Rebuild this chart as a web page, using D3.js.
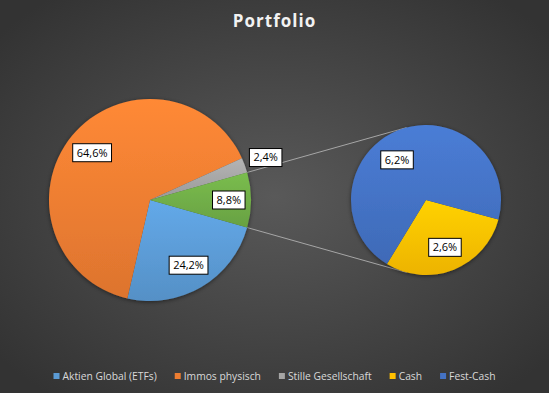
<!DOCTYPE html>
<html>
<head>
<meta charset="utf-8">
<script src="https://cdn.jsdelivr.net/npm/d3@7"></script>
<style>
  body { margin: 0; background: #333; }
  svg { display: block; }
</style>
</head>
<body>
<script>
var width = 549, height = 393;

// data
var mainNames = ["Aktien Global (ETFs)", "Immos physisch", "Stille Gesellschaft", "Other"];
var mainValues = [24.2, 64.6, 2.4, 8.8];
var mainColors = ["#5B9BD5", "#ED7D31", "#A5A5A5", "#70AD47"];
var subNames = ["Cash", "Fest-Cash"];
var subValues = [2.6, 6.2];
var subColors = ["#FFC000", "#4472C4"];
var legendNames = ["Aktien Global (ETFs)", "Immos physisch", "Stille Gesellschaft", "Cash", "Fest-Cash"];
var legendColors = ["#5B9BD5", "#ED7D31", "#A5A5A5", "#FFC000", "#4472C4"];

var svg = d3.select("body").append("svg")
    .attr("width", width)
    .attr("height", height);

var defs = svg.append("defs");

var bg = defs.append("radialGradient").attr("id", "bg")
    .attr("cx", "50%").attr("cy", "50%").attr("r", "65%");
bg.append("stop").attr("offset", "0%").attr("stop-color", "#595959");
bg.append("stop").attr("offset", "100%").attr("stop-color", "#333333");

svg.append("rect").attr("width", width).attr("height", height).attr("fill", "url(#bg)");

// vertical shading like excel
function makeGrad(id, col) {
    var g = defs.append("linearGradient").attr("id", id)
        .attr("x1", 0).attr("y1", 0).attr("x2", 0).attr("y2", 1);
    g.append("stop").attr("offset", "0%").attr("stop-color", d3.color(col).brighter(0.25));
    g.append("stop").attr("offset", "100%").attr("stop-color", d3.color(col).darker(0.2));
}
mainColors.forEach(function(c, i){ makeGrad("m" + i, c); });
subColors.forEach(function(c, i){ makeGrad("s" + i, c); });

var shadow = defs.append("filter").attr("id", "shadow")
    .attr("x", "-20%").attr("y", "-20%").attr("width", "140%").attr("height", "140%");
shadow.append("feDropShadow").attr("dx", 0).attr("dy", 1).attr("stdDeviation", 2)
    .attr("flood-color", "#000").attr("flood-opacity", 0.5);

// title
svg.append("text")
    .attr("x", width / 2)
    .attr("y", 27)
    .attr("text-anchor", "middle")
    .attr("font-family", "Open Sans")
    .attr("font-weight", "bold")
    .attr("font-size", 17)
    .attr("letter-spacing", 1)
    .attr("fill", "#F2F2F2")
    .text("Portfolio");

var fmt = function(v){ return v.toFixed(1).replace(".", ",") + "%"; };
var deg = Math.PI / 180;

// main pie: "Other" slice centred at 3 o'clock
var mainTotal = d3.sum(mainValues);
var otherAngle = mainValues[3] / mainTotal * 360;
var mainStart = (90 + otherAngle / 2) * deg;
var mainPie = d3.pie().sort(null).startAngle(mainStart).endAngle(mainStart + 2 * Math.PI);
var mainR = 101;
var mainCx = 150, mainCy = 200;
var mainArcs = mainPie(mainValues);

var subTotal = d3.sum(subValues);
var subStart = 105 * deg;
var subPie = d3.pie().sort(null).startAngle(subStart).endAngle(subStart + 2 * Math.PI);
var subR = 75;
var subCx = 426, subCy = 200;
var subArcs = subPie(subValues);

// connector lines
var otherArc = mainArcs[3];
function pt(cx, cy, r, a){ return [cx + r * Math.sin(a), cy - r * Math.cos(a)]; }
var lines = [
    [pt(mainCx, mainCy, mainR, otherArc.startAngle), pt(subCx, subCy, subR, -15 * deg)],
    [pt(mainCx, mainCy, mainR, otherArc.endAngle), pt(subCx, subCy, subR, 195 * deg)]
];
svg.selectAll("line.conn").data(lines).enter().append("line")
    .attr("class", "conn")
    .attr("x1", function(d){ return d[0][0]; })
    .attr("y1", function(d){ return d[0][1]; })
    .attr("x2", function(d){ return d[1][0]; })
    .attr("y2", function(d){ return d[1][1]; })
    .attr("stroke", "#A6A6A6")
    .attr("stroke-width", 1);

var arcMain = d3.arc().innerRadius(0).outerRadius(mainR);
var gMain = svg.append("g").attr("transform", "translate(" + mainCx + "," + mainCy + ")")
    .attr("filter", "url(#shadow)");
gMain.selectAll("path").data(mainArcs).enter().append("path")
    .attr("d", arcMain)
    .attr("fill", function(d, i){ return "url(#m" + i + ")"; });

var arcSub = d3.arc().innerRadius(0).outerRadius(subR);
var gSub = svg.append("g").attr("transform", "translate(" + subCx + "," + subCy + ")")
    .attr("filter", "url(#shadow)");
gSub.selectAll("path").data(subArcs).enter().append("path")
    .attr("d", arcSub)
    .attr("fill", function(d, i){ return "url(#s" + i + ")"; });

// labels
function addLabel(x, y, txt) {
    var g = svg.append("g").attr("transform", "translate(" + x + "," + y + ")");
    var t = g.append("text")
        .attr("text-anchor", "middle")
        .attr("dy", "0.35em")
        .attr("font-family", "Open Sans")
        .attr("font-size", 11)
        .attr("fill", "#000")
        .text(txt);
    var w = t.node().getComputedTextLength();
    g.insert("rect", "text")
        .attr("x", -w / 2 - 4).attr("y", -9)
        .attr("width", w + 8).attr("height", 18)
        .attr("fill", "#fff").attr("stroke", "#000").attr("stroke-width", 1);
}
var mainLabelR = [0.75, 0.74, 1.22, 0.78];
mainArcs.forEach(function(a, i){
    var mid = (a.startAngle + a.endAngle) / 2;
    var p = pt(mainCx, mainCy, mainR * mainLabelR[i], mid);
    addLabel(p[0], p[1], fmt(a.data));
});
// best-fit style offsets inside the small pie
var subLabelR = [0.68, 0.66];
var subLabelShift = [0, -14 * deg];
subArcs.forEach(function(a, i){
    var mid = (a.startAngle + a.endAngle) / 2 + subLabelShift[i];
    var p = pt(subCx, subCy, subR * subLabelR[i], mid);
    addLabel(p[0], p[1], fmt(a.data));
});

// legend
var leg = svg.append("g").attr("transform", "translate(0,376)");
var items = leg.selectAll("g").data(legendNames).enter().append("g");
items.append("rect")
    .attr("y", -3).attr("width", 6).attr("height", 6)
    .attr("fill", function(d, i){ return legendColors[i]; });
items.append("text")
    .attr("x", 9)
    .attr("dy", "0.35em")
    .attr("font-family", "Open Sans")
    .attr("font-size", 10.3)
    .attr("fill", "#D9D9D9")
    .text(function(d){ return d; });
var xPos = 0, offs = [];
items.each(function(){
    offs.push(xPos);
    xPos += 9 + d3.select(this).select("text").node().getComputedTextLength() + 18;
});
var total = xPos - 18;
var startX = (width - total) / 2;
items.attr("transform", function(d, i){ return "translate(" + (startX + offs[i]) + ",0)"; });
</script>
</body>
</html>
